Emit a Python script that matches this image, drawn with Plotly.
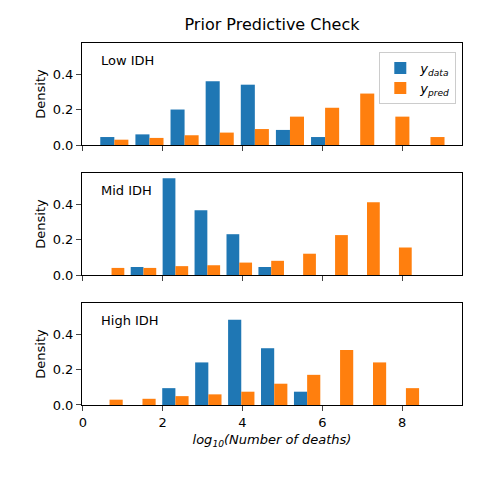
import plotly.graph_objects as go
from plotly.subplots import make_subplots

groups = ["Low IDH", "Mid IDH", "High IDH"]
bin_start = [0.79, 0.72, 0.67]
bin_width = [0.88, 0.80, 0.825]
y_data = [
    [0.045, 0.06, 0.2, 0.36, 0.34, 0.085, 0.045, 0, 0, 0],
    [0, 0.045, 0.545, 0.365, 0.23, 0.045, 0, 0, 0, 0],
    [0, 0, 0.095, 0.24, 0.48, 0.32, 0.075, 0, 0, 0],
]
y_pred = [
    [0.03, 0.04, 0.055, 0.07, 0.09, 0.16, 0.21, 0.29, 0.16, 0.045],
    [0.04, 0.04, 0.05, 0.055, 0.07, 0.08, 0.12, 0.225, 0.41, 0.155],
    [0.03, 0.035, 0.05, 0.06, 0.075, 0.12, 0.17, 0.31, 0.24, 0.095],
]

fig = make_subplots(rows=3, cols=1, shared_xaxes=True, vertical_spacing=0.0773)

for i, name in enumerate(groups):
    centers = [bin_start[i] + bin_width[i] * k for k in range(10)]
    w = 0.4 * bin_width[i]
    fig.add_trace(go.Bar(x=centers, y=y_data[i], width=w, offset=-w,
                         marker_color="#1f77b4", marker_line_width=0,
                         name="<i>y</i><sub><i>data</i></sub>", showlegend=(i == 0)),
                  row=i + 1, col=1)
    fig.add_trace(go.Bar(x=centers, y=y_pred[i], width=w, offset=0,
                         marker_color="#ff7f0e", marker_line_width=0,
                         name="<i>y</i><sub><i>pred</i></sub>", showlegend=(i == 0)),
                  row=i + 1, col=1)
    fig.add_annotation(text=name, xref="x domain", yref="y domain",
                       x=0.045, y=0.92, xanchor="left", yanchor="top",
                       showarrow=False, font=dict(size=13, color="black"),
                       row=i + 1, col=1)
    fig.update_yaxes(title_text="Density", range=[0, 0.575],
                     tickvals=[0, 0.2, 0.4], ticktext=["0.0", "0.2", "0.4"],
                     row=i + 1, col=1)

fig.update_xaxes(range=[-0.02, 9.5], tickvals=[0, 2, 4, 6, 8],
                 showline=True, mirror=True, linecolor="black",
                 ticks="outside", showgrid=False, zeroline=False,
                 tickfont=dict(size=13))
fig.update_yaxes(showline=True, mirror=True, linecolor="black",
                 ticks="outside", showgrid=False, zeroline=False,
                 title_standoff=4, tickfont=dict(size=13),
                 title_font=dict(size=13))
fig.update_xaxes(title_text="<i>log<sub>10</sub>(Number of deaths)</i>",
                 title_font=dict(size=13), title_standoff=6, row=3, col=1)

fig.update_layout(
    width=480, height=480,
    margin=dict(l=74, r=26, t=35, b=83),
    title=dict(text="Prior Predictive Check", x=0.5, xanchor="center",
               xref="paper", y=0.965, yanchor="middle",
               font=dict(size=16, color="black")),
    barmode="overlay",
    plot_bgcolor="white", paper_bgcolor="white",
    font=dict(family="DejaVu Sans", size=13, color="black"),
    legend=dict(x=0.985, y=0.975, xanchor="right", yanchor="top",
                bordercolor="#cccccc", borderwidth=1,
                bgcolor="rgba(255,255,255,0.8)", font=dict(size=13)),
)

fig.write_html("out.html")
